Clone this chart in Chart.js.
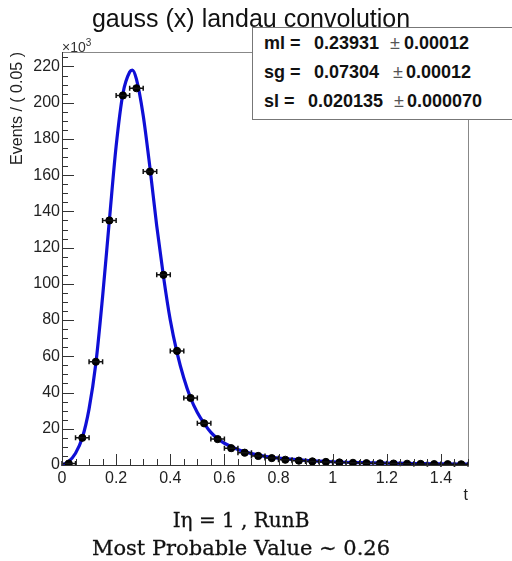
<!DOCTYPE html>
<html lang="en">
<head>
<meta charset="UTF-8">
<title>gauss (x) landau convolution</title>
<script src="https://cdn.jsdelivr.net/npm/chart.js"></script>
<style>
  body { margin: 0; background: #fff; }
  #wrap { position: relative; width: 512px; height: 561px; overflow: hidden; font-family: 'Liberation Sans', Arial, sans-serif; }
  #chart { position: absolute; left: 0; top: 0; }
  #title { position: absolute; left: 0; width: 502px; top: 6px; text-align: center; font-size: 25px; line-height: 25px; color: #111; }
  #expo { position: absolute; left: 62px; top: 37px; font-size: 14px; color: #333; }
  #expo sup { font-size: 10px; }
  #stats { position: absolute; left: 252px; top: 27px; width: 280px; height: 91px; border: 1px solid #777; background: #fff; }
  .st { position: absolute; font-size: 18px; font-weight: bold; color: #111; white-space: pre; line-height: 18px; }
  .pm { font-weight: normal; color: #555; }
  .cap { position: absolute; left: 0; width: 482px; text-align: center; font-family: 'DejaVu Serif', serif; color: #111; line-height: 22px; -webkit-text-stroke: 0.3px #111; }
</style>
</head>
<body>
<div id="wrap">
  <canvas id="chart" width="512" height="561"></canvas>
  <div id="title">gauss (x) landau convolution</div>
  <div id="expo">×10<sup>3</sup></div>
  <div id="stats"></div>
  <div class="cap" style="top:509px;font-size:20px">Iη = 1 , RunB</div>
  <div class="cap" style="top:537px;font-size:21px">Most Probable Value ~ 0.26</div>
</div>
<script>
// histogram bins (t), counts in units of 10^3
const binCenters = [0.025, 0.075, 0.125, 0.175, 0.225, 0.275, 0.325, 0.375, 0.425, 0.475,
                    0.525, 0.575, 0.625, 0.675, 0.725, 0.775, 0.825, 0.875, 0.925, 0.975,
                    1.025, 1.075, 1.125, 1.175, 1.225, 1.275, 1.325, 1.375, 1.425, 1.475];
const counts = [0.8, 15, 57, 135, 204, 208, 162, 105, 63, 37,
                23, 14.3, 9.3, 6.8, 5.0, 3.8, 2.9, 2.4, 2.0, 1.7,
                1.4, 1.2, 1.0, 0.9, 0.8, 0.7, 0.6, 0.5, 0.45, 0.4];
const binHalfWidth = 0.025;

// fitted curve
const curveX = [0, 0.025, 0.05, 0.075, 0.1, 0.125, 0.15, 0.175, 0.2, 0.225, 0.25, 0.26, 0.275,
                0.3, 0.325, 0.35, 0.375, 0.4, 0.425, 0.45, 0.475, 0.5, 0.525, 0.55, 0.575, 0.6,
                0.65, 0.7, 0.75, 0.8, 0.9, 1.0, 1.1, 1.2, 1.3, 1.4, 1.5];
const curveY = [0, 2, 6.5, 15, 31, 56, 93, 135, 176, 205, 217, 218, 213,
                193, 164, 132, 104, 80, 62, 48, 37, 29, 23, 18, 14.5, 12,
                8.5, 6.3, 4.8, 3.8, 2.6, 1.8, 1.3, 1.0, 0.8, 0.6, 0.5];

const xTickValues = [0, 0.2, 0.4, 0.6, 0.8, 1, 1.2, 1.4];
const yTickValues = [0, 20, 40, 60, 80, 100, 120, 140, 160, 180, 200, 220];

const statNames = ['ml =', 'sg =', 'sl ='];
const statValues = ['0.23931', '0.07304', '0.020135'];
const statErrors = ['0.00012', '0.00012', '0.000070'];

// stats box
const statPos = [
  { top: 6, v: 61, pm: 137, e: 151 },
  { top: 35, v: 61, pm: 140, e: 153 },
  { top: 64, v: 55, pm: 141, e: 154 }
];
const stats = document.getElementById('stats');
statNames.forEach((n, i) => {
  const p = statPos[i];
  stats.insertAdjacentHTML('beforeend',
    `<span class="st" style="left:11px;top:${p.top}px">${n}</span>` +
    `<span class="st" style="left:${p.v}px;top:${p.top}px">${statValues[i]}</span>` +
    `<span class="st pm" style="left:${p.pm}px;top:${p.top}px">±</span>` +
    `<span class="st" style="left:${p.e}px;top:${p.top}px">${statErrors[i]}</span>`);
});

// ROOT-like frame with inner ticks + horizontal error bars
const rootFrame = {
  id: 'rootFrame',
  afterDatasetsDraw(chart) {
    const { ctx, scales: { x, y } } = chart;
    ctx.save();
    ctx.strokeStyle = '#111';
    ctx.lineWidth = 1.5;
    binCenters.forEach((c, i) => {
      const x0 = x.getPixelForValue(c - binHalfWidth);
      const x1 = x.getPixelForValue(c + binHalfWidth);
      const py = y.getPixelForValue(counts[i]);
      ctx.beginPath();
      ctx.moveTo(x0, py); ctx.lineTo(x1, py);
      ctx.moveTo(x0, py - 2.5); ctx.lineTo(x0, py + 2.5);
      ctx.moveTo(x1, py - 2.5); ctx.lineTo(x1, py + 2.5);
      ctx.stroke();
    });
    ctx.restore();
  },
  afterDraw(chart) {
    const { ctx, chartArea: a, scales: { x, y } } = chart;
    ctx.save();
    ctx.lineWidth = 1;
    ctx.strokeStyle = '#888';
    ctx.beginPath();
    ctx.moveTo(a.left, a.top + 0.5); ctx.lineTo(a.right + 0.5, a.top + 0.5);
    ctx.lineTo(a.right + 0.5, a.bottom);
    ctx.stroke();
    ctx.strokeStyle = '#333';
    ctx.beginPath();
    ctx.moveTo(a.left + 0.5, a.top); ctx.lineTo(a.left + 0.5, a.bottom + 0.5);
    ctx.lineTo(a.right + 0.5, a.bottom + 0.5);
    // x ticks
    for (let t = 0; t <= 1.5001; t += 0.05) {
      const px = Math.round(x.getPixelForValue(t)) + 0.5;
      const major = Math.abs(t / 0.2 - Math.round(t / 0.2)) < 1e-6;
      ctx.moveTo(px, a.bottom); ctx.lineTo(px, a.bottom - (major ? 11 : 6));
    }
    // y ticks
    for (let v = 0; v <= 228; v += 5) {
      const py = Math.round(y.getPixelForValue(v)) + 0.5;
      const major = v % 20 === 0;
      ctx.moveTo(a.left, py); ctx.lineTo(a.left + (major ? 12 : 6), py);
    }
    ctx.stroke();
    ctx.restore();
  }
};

const tickFont = { family: "'Liberation Sans', Arial, sans-serif", size: 16 };

new Chart(document.getElementById('chart'), {
  type: 'scatter',
  data: {
    datasets: [
      {
        label: 'data',
        data: binCenters.map((c, i) => ({ x: c, y: counts[i] })),
        pointRadius: 3.6,
        pointBackgroundColor: '#000',
        pointBorderColor: '#000',
        showLine: false
      },
      {
        label: 'fit',
        data: curveX.map((c, i) => ({ x: c, y: curveY[i] })),
        showLine: true,
        pointRadius: 0,
        borderColor: '#0f0fd6',
        borderWidth: 3.2,
        cubicInterpolationMode: 'monotone'
      }
    ]
  },
  options: {
    responsive: false,
    animation: false,
    devicePixelRatio: 1,
    layout: { padding: { top: 52, right: 44, bottom: 56, left: 0 } },
    plugins: { legend: { display: false }, tooltip: { enabled: false } },
    scales: {
      x: {
        type: 'linear', min: 0, max: 1.5,
        grid: { display: false, drawTicks: false },
        border: { display: false },
        afterBuildTicks: s => { s.ticks = xTickValues.map(v => ({ value: v })); },
        afterFit: s => { s.height = 40; },
        ticks: { font: tickFont, color: '#222', padding: 4, maxRotation: 0, callback: v => String(v) },
        title: { display: true, text: 't', align: 'end', font: tickFont, color: '#222', padding: { top: 0, bottom: 0 } }
      },
      y: {
        type: 'linear', min: 0, max: 228,
        grid: { display: false, drawTicks: false },
        border: { display: false },
        afterBuildTicks: s => { s.ticks = yTickValues.map(v => ({ value: v })); },
        afterFit: s => { s.width = 62; },
        ticks: { font: tickFont, color: '#222', padding: 2, callback: v => String(v) },
        title: { display: true, text: 'Events / ( 0.05 )', align: 'end', font: tickFont, color: '#222', padding: { top: 8, bottom: 0 } }
      }
    }
  },
  plugins: [rootFrame]
});
</script>
</body>
</html>
